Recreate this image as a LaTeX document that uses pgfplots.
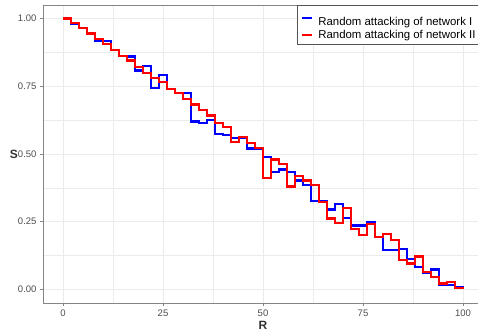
\documentclass[border=0pt]{standalone}
\usepackage{fontspec}
\setmainfont{Liberation Sans}
\usepackage{pgfplots}
\usepackage{pgfplotstable}
\pgfplotsset{compat=1.18}
\definecolor{gridc}{HTML}{EBEBEB}
\definecolor{framec}{HTML}{858585}
\definecolor{tickc}{HTML}{4D4D4D}
\definecolor{legc}{HTML}{555555}
\pgfplotstableread{
R S
0 1.000
2 0.980
4 0.964
6 0.943
8 0.916
10 0.918
12 0.884
14 0.862
16 0.860
18 0.808
20 0.824
22 0.745
24 0.793
26 0.740
28 0.724
30 0.724
32 0.620
34 0.613
36 0.625
38 0.575
40 0.570
42 0.558
44 0.558
46 0.520
48 0.520
50 0.490
52 0.435
54 0.443
56 0.434
58 0.402
60 0.386
62 0.326
64 0.326
66 0.295
68 0.314
70 0.264
72 0.236
74 0.236
76 0.248
78 0.194
80 0.145
82 0.145
84 0.148
86 0.113
88 0.084
90 0.062
92 0.074
94 0.016
96 0.016
98 0.010
100 0.005
}\netI
\pgfplotstableread{
R S
0 1.000
2 0.984
4 0.966
6 0.945
8 0.925
10 0.905
12 0.884
14 0.862
16 0.845
18 0.822
20 0.800
22 0.780
24 0.765
26 0.740
28 0.724
30 0.702
32 0.683
34 0.663
36 0.642
38 0.615
40 0.600
42 0.543
44 0.563
46 0.540
48 0.523
50 0.410
52 0.480
54 0.464
56 0.380
58 0.420
60 0.402
62 0.386
64 0.322
66 0.262
68 0.246
70 0.302
72 0.224
74 0.200
76 0.242
78 0.193
80 0.205
82 0.182
84 0.110
86 0.096
88 0.122
90 0.064
92 0.047
94 0.022
96 0.027
98 0.006
100 0.000
}\netII
\begin{document}
\begin{tikzpicture}
\useasboundingbox (0,0) rectangle (478pt,332pt);
\begin{axis}[
  at={(43pt,29pt)}, anchor=south west,
  scale only axis, width=440pt, height=298pt,
  xmin=-5, xmax=105, ymin=-0.05, ymax=1.05,
  xtick={0,25,50,75,100}, xticklabels={0,25,50,75,100},
  ytick={0,0.25,0.5,0.75,1}, yticklabels={0.00,0.25,0.50,0.75,1.00},
  minor xtick={12.5,37.5,62.5,87.5},
  minor ytick={0.125,0.375,0.625,0.875},
  grid=both,
  major grid style={gridc, line width=0.9pt},
  minor grid style={gridc, line width=0.5pt},
  axis line style={framec, line width=0.9pt},
  tick style={framec, line width=0.9pt},
  major tick length=3pt, minor tick length=0pt, tick align=outside,
  xtick pos=bottom, ytick pos=left,
  ticklabel style={font=\fontsize{9.5}{11}\selectfont, text=tickc},
  /pgf/number format/assume math mode=true,
  xlabel={R}, ylabel={S},
  xlabel style={at={(axis description cs:0.5,0)}, anchor=center, yshift=-22pt,
    font=\bfseries\fontsize{12}{14}\selectfont, text=black!80},
  ylabel style={at={(axis description cs:0,0.5)}, anchor=center, rotate=-90, xshift=-29pt,
    font=\bfseries\fontsize{12}{14}\selectfont, text=black!80},
  legend style={at={(axis cs:58.5,1.05)}, anchor=north west,
    draw=legc, line width=0.7pt, fill=white,
    font=\fontsize{11.4}{13}\selectfont, row sep=-0.7pt, column sep=3pt,
    inner xsep=4pt, inner ysep=1.8pt},
  legend cell align=left,
  legend image code/.code={\draw[#1, line width=2pt] (0pt,0pt) -- (10pt,0pt);},
]
\addplot[const plot, blue, line width=2.2pt] table[x=R, y=S] {\netI};
\addlegendentry{\rule{0pt}{16.5pt}Random attacking of network I}
\addplot[const plot, red, line width=2.2pt] table[x=R, y=S] {\netII};
\addlegendentry{Random attacking of network II}
\end{axis}
\end{tikzpicture}
\end{document}
